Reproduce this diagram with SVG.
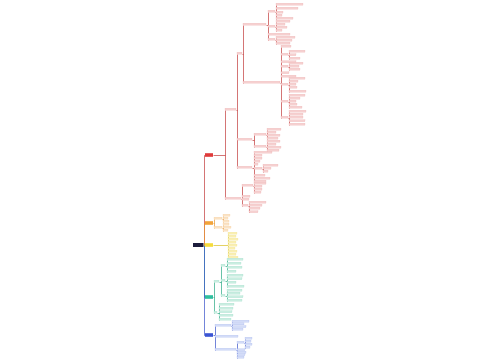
<svg xmlns="http://www.w3.org/2000/svg" width="500" height="360" viewBox="0 0 500 360">
<style>
rect{height:2px}
.m{height:3.6px}
.r{fill:#f6d0d0;stroke:#e9a0a0;stroke-width:.2}
.o{fill:#fbe3c4;stroke:#f3bf80;stroke-width:.2}
.y{fill:#faefb0;stroke:#eadb7a;stroke-width:.2}
.t{fill:#c9eee1;stroke:#86d2bb;stroke-width:.2}
.b{fill:#d3dcf8;stroke:#93a3e6;stroke-width:.2}
.c{fill:none;stroke-width:.7}
.cr{stroke:#c23a3a}.co{stroke:#e8962f}.cy{stroke:#d8bf22}.ct{stroke:#28a883}.cb{stroke:#3650c8}
</style>
<rect x="0" y="0" width="500" height="360" fill="#fff" style="height:360px"/>
<g id="connectors" transform="translate(.5,.5)">
<path class="c cr" d="M204,245V155H205"/>
<path class="c co" d="M204,245V223H205"/>
<path class="c ct" d="M204,245V297H205"/>
<path class="c cb" d="M204,245V335H205"/>
<path class="c cy" d="M203,245H205"/>
<path class="c cr" d="M213,155H225M225,110V199M236,110H237M237,54V168M242,54H243M243,25V83M266,25H268M268,12V40M275,12H276M276,5V19M275,27H276M276,22V31M275,40H276M276,38V44M280,83H281M281,47V118M288,55H289M289,52V59M288,67H289M289,64V70M288,85H289M289,79V92M288,102H289M289,96V108M288,118H289M289,112V125M252,140H254M254,135V147M266,135H267M267,130V139M266,147H267M267,142V151M252,168H254M254,153V182M262,169H263M263,166V172M241,199H242M242,186V206M253,186H254M254,184V193M248,206H249M249,203V212.5"/>
<path class="c co" d="M213,223H214M214,219V228M222,219H223M223,216V222M222,228H223M223,225V231"/>
<path class="c cy" d="M213,245H228M228,234V258"/>
<path class="c ct" d="M213,297H214M214,282V313M219,282H221M221,266V296M225,266H227M227,260V272M225,281H227M227,276V287M225,296H227M227,291V301M217,313H219M219,305V320"/>
<path class="c cb" d="M213,335H215M215,326V350M231,326H232M232,322V330M236,350H237M237,343V358M244,343H245M245,339V348"/>
</g>
<g id="root"><rect class="m" x="193" y="243" width="10.5" fill="#1c1c3c" style="height:4px"/></g>
<g id="red"><rect class="m" x="205" y="153.2" width="8" fill="#e03a3a"/></g>
<g id="orange"><rect class="m" x="205" y="221.2" width="8" fill="#f2a33a"/></g>
<g id="yellow"><rect class="m" x="205" y="243.2" width="8" fill="#f5dc3c"/></g>
<g id="teal"><rect class="m" x="205" y="295.2" width="8" fill="#2fbf9f"/></g>
<g id="blue"><rect class="m" x="205" y="333.2" width="8" fill="#3b55d4"/></g>
<g id="r-a"><rect class="r" x="225" y="108.2" width="11"/></g>
<g id="r-c"><rect class="r" x="225" y="197.2" width="16"/></g>
<g id="r-a1"><rect class="r" x="237" y="52.2" width="5"/></g>
<g id="r-a2"><rect class="r" x="237" y="138.2" width="15"/></g>
<g id="r-a3"><rect class="r" x="237" y="166.2" width="15"/></g>
<g id="r-a1a"><rect class="r" x="243" y="23.2" width="23"/></g>
<g id="r-a1b"><rect class="r" x="243" y="81.2" width="37"/></g>
<g id="r-a1a-1"><rect class="r" x="268" y="10.2" width="7"/></g>
<g id="r-a1a-2"><rect class="r" x="268" y="25.2" width="7"/></g>
<g id="r-a1a-3"><rect class="r" x="268" y="33.2" width="22"/></g>
<g id="r-a1a-4"><rect class="r" x="268" y="38.2" width="7"/></g>
<g id="r-l1"><rect class="r" x="276" y="3.2" width="27"/></g>
<g id="r-l2"><rect class="r" x="276" y="7.2" width="22"/></g>
<g id="r-l3"><rect class="r" x="276" y="11.2" width="7"/></g>
<g id="r-l4"><rect class="r" x="276" y="14.2" width="6"/></g>
<g id="r-l5"><rect class="r" x="276" y="17.2" width="17"/></g>
<g id="r-l6"><rect class="r" x="276" y="20.2" width="14"/></g>
<g id="r-l7"><rect class="r" x="276" y="23.2" width="9"/></g>
<g id="r-l8"><rect class="r" x="276" y="26.2" width="11"/></g>
<g id="r-l9"><rect class="r" x="276" y="29.2" width="6"/></g>
<g id="r-l10"><rect class="r" x="276" y="36.2" width="19"/></g>
<g id="r-l11"><rect class="r" x="276" y="39.2" width="16"/></g>
<g id="r-l12"><rect class="r" x="276" y="42.2" width="14"/></g>
<g id="r-b1"><rect class="r" x="281" y="45.2" width="10"/></g>
<g id="r-b2"><rect class="r" x="281" y="53.2" width="7"/></g>
<g id="r-b3"><rect class="r" x="281" y="60.7" width="15"/></g>
<g id="r-b4"><rect class="r" x="281" y="65.2" width="7"/></g>
<g id="r-b5"><rect class="r" x="281" y="71.7" width="8"/></g>
<g id="r-b6"><rect class="r" x="281" y="75.2" width="15"/></g>
<g id="r-b7"><rect class="r" x="281" y="83.2" width="7"/></g>
<g id="r-b8"><rect class="r" x="281" y="100.2" width="7"/></g>
<g id="r-b9"><rect class="r" x="281" y="116.2" width="7"/></g>
<g id="r-s1"><rect class="r" x="289" y="50.2" width="16"/></g>
<g id="r-s2"><rect class="r" x="289" y="53.7" width="7"/></g>
<g id="r-s3"><rect class="r" x="289" y="57.2" width="11"/></g>
<g id="r-s4"><rect class="r" x="289" y="62.2" width="14"/></g>
<g id="r-s5"><rect class="r" x="289" y="65.2" width="10"/></g>
<g id="r-s6"><rect class="r" x="289" y="68.2" width="11"/></g>
<g id="r-s7"><rect class="r" x="289" y="77.2" width="16"/></g>
<g id="r-s8"><rect class="r" x="289" y="80.2" width="9"/></g>
<g id="r-s9"><rect class="r" x="289" y="83.2" width="7"/></g>
<g id="r-s10"><rect class="r" x="289" y="86.2" width="8"/></g>
<g id="r-s11"><rect class="r" x="289" y="90.2" width="17"/></g>
<g id="r-s12"><rect class="r" x="289" y="94.2" width="16"/></g>
<g id="r-s13"><rect class="r" x="289" y="97.2" width="11"/></g>
<g id="r-s14"><rect class="r" x="289" y="100.2" width="7"/></g>
<g id="r-s15"><rect class="r" x="289" y="103.2" width="8"/></g>
<g id="r-s16"><rect class="r" x="289" y="106.2" width="13"/></g>
<g id="r-s17"><rect class="r" x="289" y="110.2" width="17"/></g>
<g id="r-s18"><rect class="r" x="289" y="113.2" width="14"/></g>
<g id="r-s19"><rect class="r" x="289" y="116.2" width="14"/></g>
<g id="r-s20"><rect class="r" x="289" y="119.7" width="16"/></g>
<g id="r-s21"><rect class="r" x="289" y="123.2" width="16"/></g>
<g id="r-a2-1"><rect class="r" x="254" y="133.2" width="12"/></g>
<g id="r-a2-2"><rect class="r" x="254" y="145.2" width="12"/></g>
<g id="r-q1"><rect class="r" x="267" y="128.2" width="14"/></g>
<g id="r-q2"><rect class="r" x="267" y="131.2" width="9"/></g>
<g id="r-q3"><rect class="r" x="267" y="134.2" width="13"/></g>
<g id="r-q4"><rect class="r" x="267" y="137.2" width="11"/></g>
<g id="r-q5"><rect class="r" x="267" y="140.2" width="13"/></g>
<g id="r-q6"><rect class="r" x="267" y="143.2" width="9"/></g>
<g id="r-q7"><rect class="r" x="267" y="146.2" width="14"/></g>
<g id="r-q8"><rect class="r" x="267" y="149.2" width="12"/></g>
<g id="r-a3-1"><rect class="r" x="254" y="151.2" width="18"/></g>
<g id="r-a3-2"><rect class="r" x="254" y="154.2" width="8"/></g>
<g id="r-a3-3"><rect class="r" x="254" y="157.2" width="8"/></g>
<g id="r-a3-4"><rect class="r" x="254" y="160.2" width="6"/></g>
<g id="r-a3-5"><rect class="r" x="254" y="163.2" width="4"/></g>
<g id="r-a3-6"><rect class="r" x="254" y="167.2" width="8"/></g>
<g id="r-a3-7"><rect class="r" x="254" y="174.2" width="11"/></g>
<g id="r-a3-8"><rect class="r" x="254" y="177.2" width="16"/></g>
<g id="r-a3-9"><rect class="r" x="254" y="180.2" width="12"/></g>
<g id="r-p1"><rect class="r" x="263" y="164.2" width="15"/></g>
<g id="r-p2"><rect class="r" x="263" y="167.2" width="8"/></g>
<g id="r-p3"><rect class="r" x="263" y="170.2" width="5"/></g>
<g id="r-c1"><rect class="r" x="242" y="184.2" width="11"/></g>
<g id="r-c2"><rect class="r" x="242" y="195.2" width="8"/></g>
<g id="r-c3"><rect class="r" x="242" y="198.2" width="7"/></g>
<g id="r-c4"><rect class="r" x="242" y="204.2" width="6"/></g>
<g id="r-k1"><rect class="r" x="254" y="182.2" width="12"/></g>
<g id="r-k2"><rect class="r" x="254" y="185.2" width="8"/></g>
<g id="r-k3"><rect class="r" x="254" y="188.2" width="8"/></g>
<g id="r-k4"><rect class="r" x="254" y="191.2" width="7"/></g>
<g id="r-k5"><rect class="r" x="249" y="201.2" width="17"/></g>
<g id="r-k6"><rect class="r" x="249" y="204.2" width="13"/></g>
<g id="r-k7"><rect class="r" x="249" y="207.2" width="11"/></g>
<g id="r-k8"><rect class="r" x="249" y="210.7" width="9"/></g>
<g id="o-1"><rect class="o" x="214" y="217.2" width="8"/></g>
<g id="o-2"><rect class="o" x="214" y="226.2" width="8"/></g>
<g id="o-l1"><rect class="o" x="223" y="214.2" width="7"/></g>
<g id="o-l2"><rect class="o" x="223" y="217.2" width="5"/></g>
<g id="o-l3"><rect class="o" x="223" y="220.2" width="6"/></g>
<g id="o-l4"><rect class="o" x="223" y="223.2" width="6"/></g>
<g id="o-l5"><rect class="o" x="223" y="226.2" width="8"/></g>
<g id="o-l6"><rect class="o" x="223" y="229.2" width="5"/></g>
<g id="y-1"><rect class="y" x="228" y="232.2" width="9"/></g>
<g id="y-2"><rect class="y" x="228" y="235.2" width="8"/></g>
<g id="y-3"><rect class="y" x="228" y="238.2" width="10"/></g>
<g id="y-4"><rect class="y" x="228" y="241.2" width="8"/></g>
<g id="y-5"><rect class="y" x="228" y="244.2" width="9"/></g>
<g id="y-6"><rect class="y" x="228" y="247.2" width="7"/></g>
<g id="y-7"><rect class="y" x="228" y="250.2" width="9"/></g>
<g id="y-8"><rect class="y" x="228" y="253.2" width="8"/></g>
<g id="y-9"><rect class="y" x="228" y="256.2" width="10"/></g>
<g id="t-1"><rect class="t" x="214" y="280.2" width="5"/></g>
<g id="t-2"><rect class="t" x="214" y="311.2" width="3"/></g>
<g id="t-1a"><rect class="t" x="221" y="264.2" width="4"/></g>
<g id="t-1b"><rect class="t" x="221" y="279.2" width="4"/></g>
<g id="t-1c"><rect class="t" x="221" y="294.2" width="4"/></g>
<g id="t-l1"><rect class="t" x="227" y="258.2" width="16"/></g>
<g id="t-l2"><rect class="t" x="227" y="262.2" width="14"/></g>
<g id="t-l3"><rect class="t" x="227" y="266.2" width="15"/></g>
<g id="t-l4"><rect class="t" x="227" y="270.2" width="9"/></g>
<g id="t-l5"><rect class="t" x="227" y="274.2" width="16"/></g>
<g id="t-l6"><rect class="t" x="227" y="277.7" width="15"/></g>
<g id="t-l7"><rect class="t" x="227" y="281.2" width="9"/></g>
<g id="t-l8"><rect class="t" x="227" y="285.2" width="17"/></g>
<g id="t-l9"><rect class="t" x="227" y="289.2" width="15"/></g>
<g id="t-l10"><rect class="t" x="227" y="292.2" width="13"/></g>
<g id="t-l11"><rect class="t" x="227" y="295.7" width="16"/></g>
<g id="t-l12"><rect class="t" x="227" y="299.2" width="15"/></g>
<g id="t-m1"><rect class="t" x="219" y="303.2" width="15"/></g>
<g id="t-m2"><rect class="t" x="219" y="307.2" width="14"/></g>
<g id="t-m3"><rect class="t" x="219" y="310.7" width="13"/></g>
<g id="t-m4"><rect class="t" x="219" y="314.2" width="14"/></g>
<g id="t-m5"><rect class="t" x="219" y="318.2" width="12"/></g>
<g id="b-1"><rect class="b" x="215" y="324.2" width="16"/></g>
<g id="b-2"><rect class="b" x="215" y="335.2" width="23"/></g>
<g id="b-3"><rect class="b" x="215" y="348.2" width="21"/></g>
<g id="b-3a"><rect class="b" x="237" y="341.2" width="7"/></g>
<g id="b-l1"><rect class="b" x="232" y="320.2" width="17"/></g>
<g id="b-l2"><rect class="b" x="232" y="322.9" width="12"/></g>
<g id="b-l3"><rect class="b" x="232" y="325.6" width="14"/></g>
<g id="b-l4"><rect class="b" x="232" y="328.2" width="11"/></g>
<g id="b-l5"><rect class="b" x="245" y="337.2" width="7"/></g>
<g id="b-l6"><rect class="b" x="245" y="340.2" width="6"/></g>
<g id="b-l7"><rect class="b" x="245" y="343.2" width="7"/></g>
<g id="b-l8"><rect class="b" x="245" y="346.2" width="5"/></g>
<g id="b-l9"><rect class="b" x="237" y="348.7" width="8"/></g>
<g id="b-l10"><rect class="b" x="237" y="351.2" width="9"/></g>
<g id="b-l11"><rect class="b" x="237" y="353.7" width="8"/></g>
<g id="b-l12"><rect class="b" x="237" y="356.2" width="7"/></g>
</svg>
